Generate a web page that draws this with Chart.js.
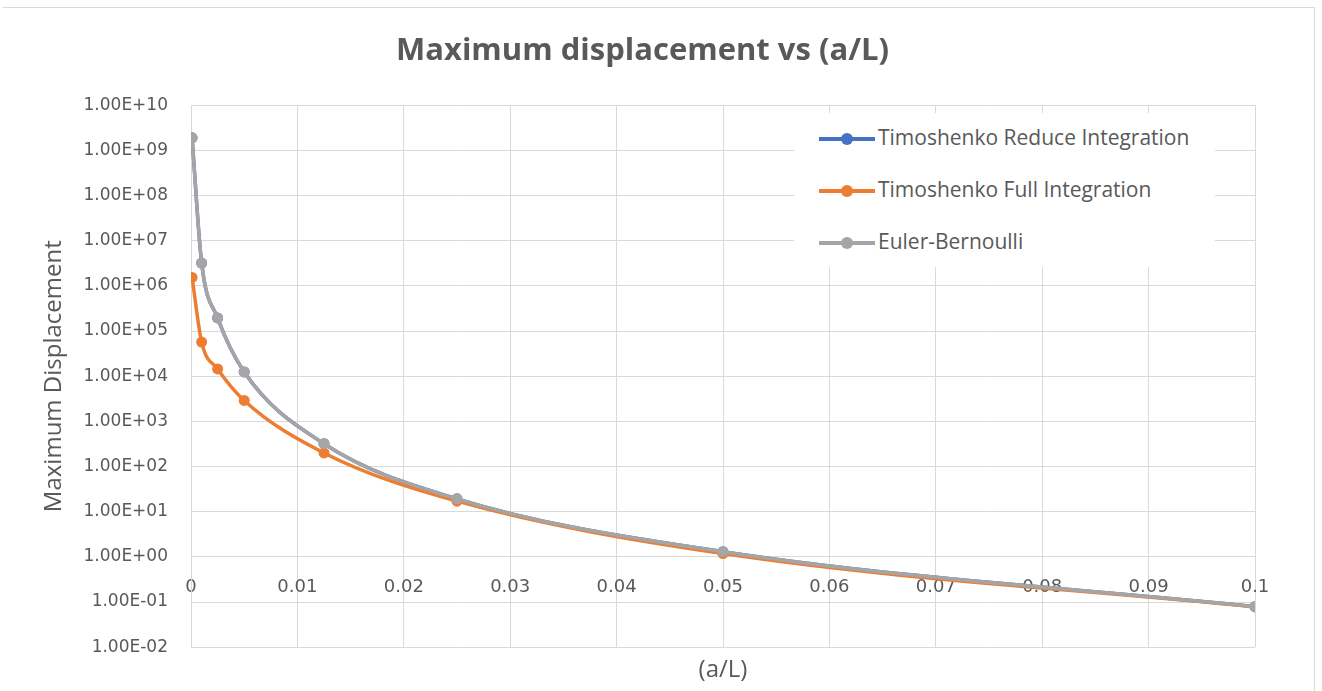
<!DOCTYPE html>
<html>
<head>
<meta charset="utf-8">
<script src="https://cdn.jsdelivr.net/npm/chart.js@4.4.1/dist/chart.umd.min.js"></script>
<style>
  body { margin: 0; background: #fff; }
  #wrap { position: relative; width: 1322px; height: 691px; overflow: hidden; }
  #frame { position: absolute; left: 3px; top: 7px; width: 1311px; height: 700px;
           border-top: 1px solid #d9d9d9; border-right: 1px solid #d9d9d9; }
  #legend { position: absolute; left: 794px; top: 113px; width: 421px; height: 154px; background: #fff;
            font-family: 'Open Sans', sans-serif; font-size: 21px; color: #595959; }
  .item { position: absolute; left: 25px; height: 30px; line-height: 30px; white-space: nowrap; }
  .swatch { position: absolute; left: 0; top: 13px; width: 56px; height: 4px; }
  .dot { position: absolute; left: 22px; top: -4px; width: 12px; height: 12px; border-radius: 50%; }
  .lbl { position: absolute; left: 59px; top: -2px; }
</style>
</head>
<body>
<div id="wrap">
  <canvas id="dispChart" width="1322" height="691"></canvas>
  <div id="frame"></div>
  <div id="legend"></div>
</div>
<script>
  // a/L values
  const ratios = [0.0001, 0.001, 0.0025, 0.005, 0.0125, 0.025, 0.05, 0.1];

  // max displacement for each method
  const reduceInt = [1.9e9, 3.2e6, 1.95e5, 1.24e4, 320, 19.3, 1.3, 0.079];
  const fullInt   = [1.54e6, 5.7e4, 1.45e4, 2.9e3, 200, 17.1, 1.18, 0.078];
  const eulerBern = [1.9e9, 3.2e6, 1.95e5, 1.24e4, 320, 19.3, 1.3, 0.079];

  const seriesNames = ['Timoshenko Reduce Integration', 'Timoshenko Full Integration', 'Euler-Bernoulli'];
  const seriesColors = ['#4472C4', '#ED7D31', '#A5A5A5'];

  const yTicks = [1e-2, 1e-1, 1e0, 1e1, 1e2, 1e3, 1e4, 1e5, 1e6, 1e7, 1e8, 1e9, 1e10];

  function sci(v) {
    const e = Math.round(Math.log10(v));
    const m = (v / Math.pow(10, e)).toFixed(2);
    const sign = e < 0 ? '-' : '+';
    return m + 'E' + sign + String(Math.abs(e)).padStart(2, '0');
  }

  function toPoints(ys) {
    return ratios.map((x, i) => ({ x: x, y: ys[i] }));
  }

  Chart.defaults.font.family = "'Open Sans', sans-serif";
  Chart.defaults.color = '#595959';

  const allSeries = [reduceInt, fullInt, eulerBern];
  const drawOrder = [2, 1, 0]; // grey on top like Excel

  const ctx = document.getElementById('dispChart').getContext('2d');

  const dispChart = new Chart(ctx, {
    type: 'line',
    data: {
      datasets: allSeries.map((ys, i) => ({
        label: seriesNames[i],
        data: toPoints(ys),
        borderColor: seriesColors[i],
        backgroundColor: seriesColors[i],
        borderWidth: 3.5,
        cubicInterpolationMode: 'monotone',
        pointRadius: 5.5,
        pointBorderWidth: 0,
        pointBackgroundColor: seriesColors[i],
        fill: false,
        order: drawOrder[i]
      }))
    },
    options: {
      responsive: false,
      animation: false,
      layout: { padding: { left: 30, right: 67, top: 0, bottom: 0 } },
      plugins: {
        legend: { display: false },
        tooltip: { enabled: false },
        title: {
          display: true,
          text: 'Maximum displacement vs (a/L)',
          color: '#595959',
          font: { size: 31, weight: 'bold' },
          padding: { top: 33, bottom: 35 }
        },
        subtitle: {
          display: true,
          position: 'bottom',
          fullSize: false,
          text: '(a/L)',
          color: '#595959',
          font: { size: 24 },
          padding: { top: 9, bottom: 6 }
        }
      },
      scales: {
        x: {
          type: 'linear',
          min: 0,
          max: 0.1,
          position: { y: 1 },
          grid: { color: '#d9d9d9', drawTicks: false },
          border: { color: '#d9d9d9' },
          ticks: {
            stepSize: 0.01,
            padding: 20,
            maxRotation: 0,
            font: { family: "'DejaVu Sans', sans-serif", size: 18 },
            callback: (v) => String(Number(v.toFixed(2)))
          }
        },
        y: {
          type: 'logarithmic',
          min: 1e-2,
          max: 1e10,
          grid: { color: '#d9d9d9', drawTicks: false },
          border: { color: '#d9d9d9' },
          afterBuildTicks: (scale) => { scale.ticks = yTicks.map(v => ({ value: v })); },
          afterFit: (scale) => { scale.width = 161; },
          ticks: {
            padding: 23,
            font: { family: "'DejaVu Sans', sans-serif", size: 17 },
            callback: (v) => sci(v)
          },
          title: {
            display: true,
            text: 'Maximum Displacement',
            color: '#595959',
            font: { size: 24 },
            padding: { top: 10, bottom: 0 }
          }
        }
      }
    }
  });

  // legend sits inside the plot, drawn as html
  const legendEl = document.getElementById('legend');
  seriesNames.forEach((name, i) => {
    const row = document.createElement('div');
    row.className = 'item';
    row.style.top = (11 + i * 52) + 'px';
    row.innerHTML = '<div class="swatch" style="background:' + seriesColors[i] + '">' +
      '<div class="dot" style="background:' + seriesColors[i] + '"></div></div>' +
      '<span class="lbl">' + name + '</span>';
    legendEl.appendChild(row);
  });
</script>
</body>
</html>
